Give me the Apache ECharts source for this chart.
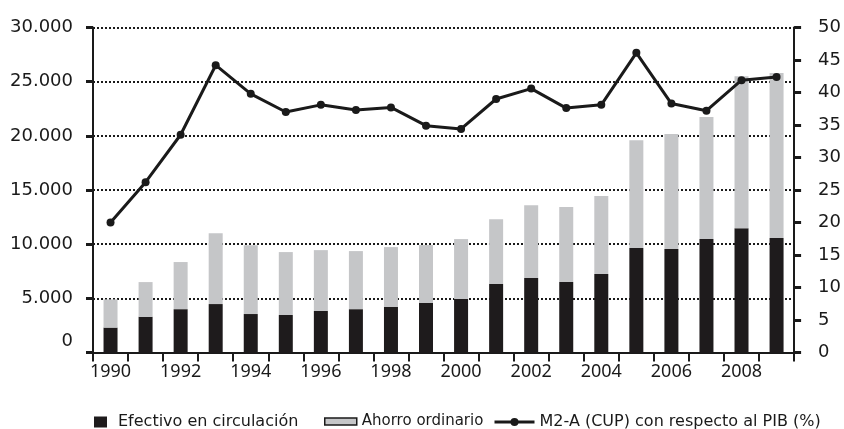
<!DOCTYPE html>
<html>
<head>
<meta charset="utf-8">
<script src="https://cdn.jsdelivr.net/npm/echarts@6/dist/echarts.min.js"></script>
<style>
  html, body { margin: 0; padding: 0; background: #ffffff; }
  #chart { width: 844px; height: 429px; }
</style>
</head>
<body>
<div id="chart"></div>
<script>
// Years on the category axis
const years = ['1990','1991','1992','1993','1994','1995','1996','1997','1998','1999',
               '2000','2001','2002','2003','2004','2005','2006','2007','2008','2009'];

// Currency in circulation (left axis)
const efectivo = [2300, 3300, 4000, 4470, 3550, 3460, 3830, 4000, 4200, 4570,
                  4940, 6320, 6870, 6500, 7240, 9640, 9550, 10470, 11480, 10560];

// Ordinary savings, stacked on top (left axis)
const ahorro = [2600, 3200, 4350, 6530, 6350, 5810, 5620, 5360, 5530, 5350,
                5530, 5980, 6730, 6920, 7200, 9960, 10610, 11280, 14020, 15240];

// M2-A (CUP) relative to GDP, % (right axis)
const m2aPib = [20.0, 26.2, 33.5, 44.2, 39.8, 37.0, 38.1, 37.3, 37.7, 34.9,
                34.4, 39.0, 40.6, 37.6, 38.1, 46.1, 38.3, 37.2, 41.9, 42.4];

// Axis ranges
const leftAxis = { min: 0, max: 30000, interval: 5000 };
const rightAxis = { min: 0, max: 50, interval: 5 };

const FONT = 'Noto Sans';
const WIDE = 'DejaVu Sans';
const INK = '#1a1a1a';

const chart = echarts.init(document.getElementById('chart'), null, { renderer: 'canvas' });

function thousands(v) {
  return String(v).replace(/\B(?=(\d{3})+(?!\d))/g, '.');
}

const legendText = { fontFamily: WIDE, fontSize: 16, color: INK };
const LEGEND_TOP = 414;

chart.setOption({
  animation: false,
  backgroundColor: '#ffffff',
  textStyle: { fontFamily: FONT, color: INK },
  grid: { left: 93, right: 49, top: 27.5, bottom: 76.5, containLabel: false },
  legend: [
    {
      left: 94, top: LEGEND_TOP, padding: 0,
      data: [{ name: 'Efectivo en circulación', icon: 'rect' }],
      itemWidth: 13, itemHeight: 11,
      textStyle: Object.assign({ padding: [0, 0, 0, 6] }, legendText)
    },
    {
      left: 324, top: LEGEND_TOP, padding: 0,
      data: [{ name: 'Ahorro ordinario', icon: 'rect',
               itemStyle: { color: '#c5c6c8', borderColor: INK, borderWidth: 1.5 } }],
      itemWidth: 32, itemHeight: 7,
      textStyle: { fontFamily: WIDE, fontSize: 15, color: INK }
    },
    {
      left: 493, top: LEGEND_TOP, padding: 0,
      data: ['M2-A (CUP) con respecto al PIB (%)'],
      itemWidth: 40, itemHeight: 10,
      lineStyle: { width: 3, color: INK },
      itemStyle: { color: INK },
      textStyle: legendText
    }
  ],
  xAxis: {
    type: 'category',
    data: years,
    boundaryGap: true,
    axisLine: { lineStyle: { color: INK, width: 2 } },
    axisTick: { show: true, interval: 0, length: 9, lineStyle: { color: INK, width: 2 } },
    axisLabel: { interval: 1, margin: 10, fontFamily: FONT, fontSize: 18, color: INK },
    splitLine: { show: false }
  },
  yAxis: [
    {
      type: 'value',
      min: leftAxis.min, max: leftAxis.max, interval: leftAxis.interval,
      axisLine: { show: true, lineStyle: { color: INK, width: 2 } },
      axisTick: { show: true, length: 7, lineStyle: { color: INK, width: 3 } },
      axisLabel: {
        margin: 20, fontFamily: WIDE, fontSize: 18, color: INK,
        formatter: function (v) { return v === 0 ? '{z|0}' : thousands(v); },
        rich: { z: { fontFamily: WIDE, fontSize: 18, color: INK, padding: [0, 0, 22, 0] } }
      },
      splitLine: { show: true, lineStyle: { color: INK, width: 2, type: [2, 2] } }
    },
    {
      type: 'value',
      position: 'right',
      min: rightAxis.min, max: rightAxis.max, interval: rightAxis.interval,
      axisLine: { show: true, lineStyle: { color: INK, width: 2 } },
      axisTick: { show: true, length: 7, lineStyle: { color: INK, width: 3 } },
      axisLabel: { margin: 24, fontFamily: WIDE, fontSize: 18, color: INK },
      splitLine: { show: false }
    }
  ],
  series: [
    {
      name: 'Efectivo en circulación',
      type: 'bar',
      stack: 'total',
      data: efectivo,
      barWidth: 14,
      itemStyle: { color: '#1e1b1c' }
    },
    {
      name: 'Ahorro ordinario',
      type: 'bar',
      stack: 'total',
      data: ahorro,
      barWidth: 14,
      itemStyle: { color: '#c5c6c8' }
    },
    {
      name: 'M2-A (CUP) con respecto al PIB (%)',
      type: 'line',
      yAxisIndex: 1,
      data: m2aPib,
      symbol: 'circle',
      symbolSize: 8,
      z: 5,
      lineStyle: { color: INK, width: 3 },
      itemStyle: { color: INK }
    }
  ]
});
</script>
</body>
</html>
